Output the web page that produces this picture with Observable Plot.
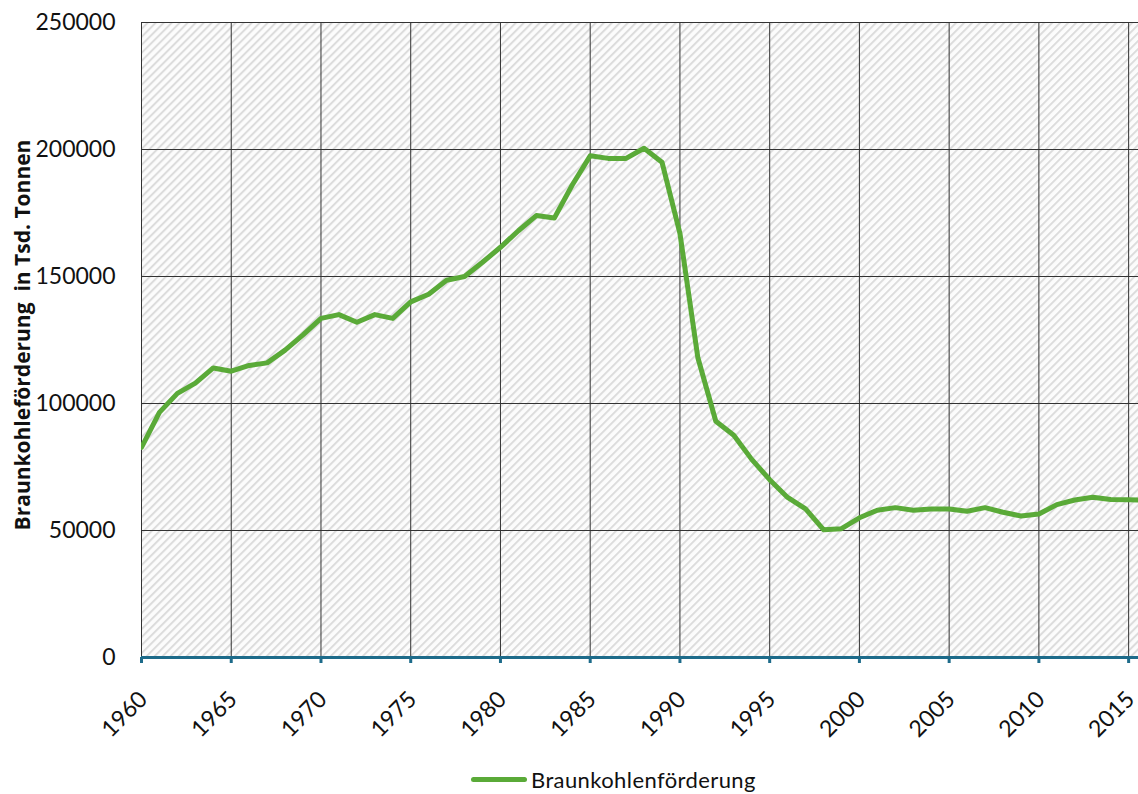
<!DOCTYPE html>
<html>
<head>
<meta charset="utf-8">
<script src="https://cdn.jsdelivr.net/npm/d3@7"></script>
<script src="https://cdn.jsdelivr.net/npm/@observablehq/plot@0.6"></script>
<style>
  body { margin: 0; background: #fff; font-family: Lato, "Open Sans", sans-serif; }
  #wrap { position: relative; width: 1138px; height: 794px; overflow: hidden; }
  #legend { position: absolute; left: 471px; top: 766px; display: flex; align-items: center; font-size: 22px; letter-spacing: 0.4px; color: #111; }
  #legend .sw { width: 56px; height: 5px; border-radius: 3px; background: #5aaa38; margin-right: 4px; }
</style>
</head>
<body>
<div id="wrap"><div id="chart"></div><div id="legend"><span class="sw"></span><span>Braunkohlenförderung</span></div></div>
<script>
const years = [1960,1961,1962,1963,1964,1965,1966,1967,1968,1969,1970,1971,1972,1973,1974,1975,1976,1977,1978,1979,1980,1981,1982,1983,1984,1985,1986,1987,1988,1989,1990,1991,1992,1993,1994,1995,1996,1997,1998,1999,2000,2001,2002,2003,2004,2005,2006,2007,2008,2009,2010,2011,2012,2013,2014,2015,2016];
const production = [82700,96500,104000,108000,114000,112700,115000,116000,121000,127000,133500,135000,132000,135000,133500,140000,143000,148500,150000,155600,161500,168000,174000,173000,186000,197500,196500,196500,200500,195000,167000,118000,93000,87500,78000,70000,63000,58500,50300,50700,55000,58000,59000,58000,58500,58500,57600,59000,57200,55700,56500,60200,62000,63100,62200,62100,62000];
const xTicks = [1960,1965,1970,1975,1980,1985,1990,1995,2000,2005,2010,2015];
const yTicks = [0,50000,100000,150000,200000,250000];
const seriesName = "Braunkohlenförderung";
const yLabel = "Braunkohleförderung  in Tsd. Tonnen";

const data = years.map((y, i) => ({year: y, value: production[i]}));

const chart = Plot.plot({
  width: 1138,
  height: 760,
  marginLeft: 141,
  marginRight: 0,
  marginTop: 22,
  marginBottom: 103,
  style: {fontFamily: "Lato, 'Open Sans', sans-serif", fontSize: "23px", color: "#111", background: "transparent"},
  x: {domain: [1960, 2015.55], label: null},
  y: {domain: [0, 250000], label: null},
  marks: [
    Plot.frame({fill: "url(#hatch)", stroke: null}),
    Plot.gridX(xTicks, {stroke: "#333", strokeOpacity: 1, strokeWidth: 1}),
    Plot.gridY(yTicks, {stroke: "#333", strokeOpacity: 1, strokeWidth: 1}),
    Plot.axisY({ticks: yTicks, tickSize: 0, tickPadding: 26, tickFormat: d => String(d), fontSize: 23, fill: "#111"}),
    Plot.line(data, {x: "year", y: "value", stroke: "#5aaa38", strokeWidth: 5, curve: "linear", strokeLinejoin: "round", strokeLinecap: "round", clip: true}),
    Plot.ruleY([0], {stroke: "#1d6b8a", strokeWidth: 3}),
    Plot.axisX({ticks: xTicks, tickSize: 6, stroke: "#1d6b8a", strokeWidth: 3, text: null}),
    Plot.axisX({ticks: xTicks, tickSize: 0, tickRotate: -45, tickPadding: 8, dx: 2, dy: 30, tickFormat: d => String(d), fontSize: 23, fill: "#111"}),
    Plot.text([yLabel], {frameAnchor: "left", textAnchor: "middle", dx: -118, dy: -5, rotate: -90, fontFamily: "'Open Sans', sans-serif", fontWeight: "bold", fontSize: 21, fill: "#111"})
  ]
});

const svg = d3.select(chart);
const defs = svg.insert("defs", ":first-child");
const pat = defs.append("pattern")
  .attr("id", "hatch")
  .attr("patternUnits", "userSpaceOnUse")
  .attr("width", 5.66).attr("height", 5.66)
  .attr("patternTransform", "rotate(45)");
pat.append("rect").attr("width", 5.66).attr("height", 5.66).attr("fill", "#fcfcfc");
pat.append("rect").attr("x", 0).attr("width", 2).attr("height", 5.66).attr("fill", "#dcdcdc");

document.getElementById("chart").appendChild(chart);
</script>
</body>
</html>
